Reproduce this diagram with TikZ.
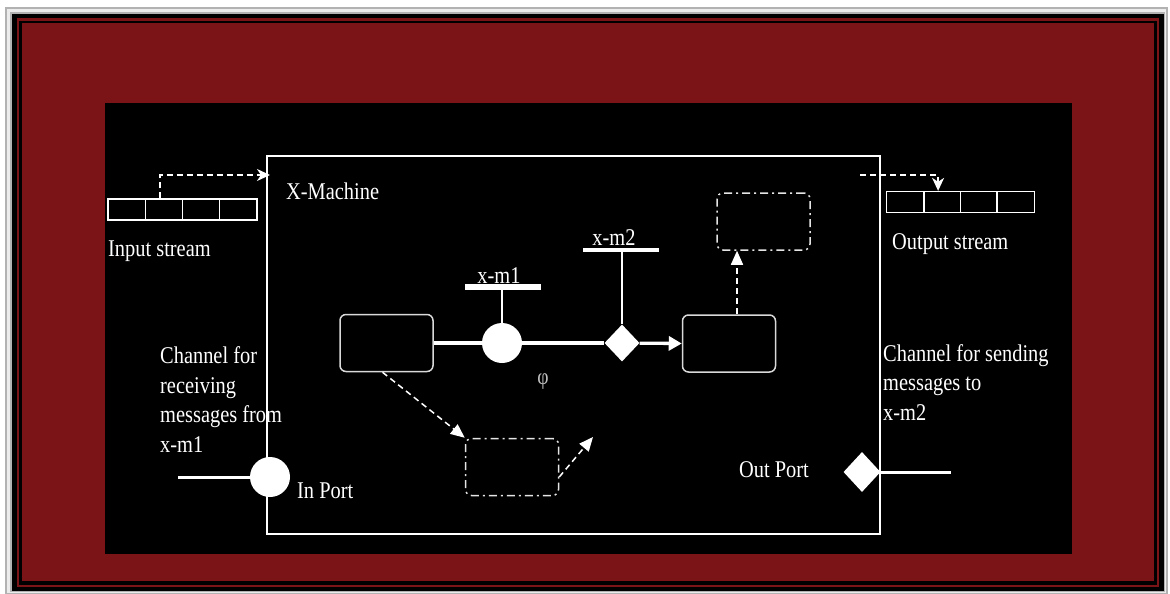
\documentclass[tikz,border=0pt]{standalone}
\usepackage{fontspec}
\usetikzlibrary{shapes.geometric,arrows.meta}
\newfontfamily\cfont[FakeStretch=0.85]{Liberation Serif}
\definecolor{frred}{RGB}{123,20,22}
\tikzset{
  lbl/.style={text=white, font=\cfont\fontsize{24}{29.5}\selectfont, inner sep=0pt},
  cell/.style={draw=white, line width=1.3pt, minimum width=37.25pt, minimum height=21pt, inner sep=0pt},
  sbox/.style={draw=white!85!black, line width=1.5pt, rounded corners=6pt, minimum width=93pt, minimum height=57pt, inner sep=0pt},
  dbox/.style={draw=white!90!black, line width=1.5pt, rounded corners=6pt, dash pattern=on 8pt off 4pt on 2pt off 4pt, minimum width=93pt, minimum height=57pt, inner sep=0pt},
  bar/.style={fill=white, minimum width=76pt, inner sep=0pt},
  dot/.style={circle, fill=white, minimum size=40pt, inner sep=0pt},
  dia/.style={diamond, fill=white, minimum width=35pt, minimum height=37pt, inner sep=0pt},
  darr/.style={draw=white, line width=1.5pt, dash pattern=on 6pt off 4pt},
  tri/.style={-{Triangle[length=14pt,width=12pt]}},
  stl/.style={-{Stealth[length=13pt,width=12pt,inset=4pt]}},
}
\begin{document}
\begin{tikzpicture}[x=1pt,y=-1pt]
\useasboundingbox (0,0) rectangle (1170,594);
% frame
\fill[white] (0,0) rectangle (1170,594);
\fill[gray!60] (5,7) rectangle (1168,594);
\fill[gray!15] (7,9) rectangle (1166,593);
\fill[gray!60] (10,12) rectangle (1165,592);
\fill[black] (12,14) rectangle (1164,591);
\fill[frred] (17,18) rectangle (1159,587);
\fill[black] (19,21) rectangle (1157,585);
\fill[frred] (22,23) rectangle (1154,581);
\fill[black] (105,103) rectangle (1072,554);
% machine
\node[draw=white, line width=1.3pt, minimum width=613pt, minimum height=378pt, inner sep=0pt] (machine) at (573.5,345) {};
\node[lbl, anchor=base west] (xm) at (286,199) {X-Machine};
% input stream
\node[cell] (in1) at (126.6,209.5) {};
\node[cell] (in2) at (163.9,209.5) {};
\node[cell] (in3) at (201.1,209.5) {};
\node[cell] (in4) at (238.4,209.5) {};
\node[lbl, anchor=base west] (inlbl) at (108,256) {Input stream};
\coordinate (intip) at (270,175);
\draw[darr, stl] ([xshift=-4pt]in2.north) |- (intip);
% output stream
\node[cell] (out1) at (905.4,202) {};
\node[cell] (out2) at (942.1,202) {};
\node[cell] (out3) at (978.9,202) {};
\node[cell] (out4) at (1015.6,202) {};
\node[lbl, anchor=base west] (outlbl) at (892,249) {Output stream};
\coordinate (outstart) at (860,175);
\draw[darr, stl] (outstart) -| ([xshift=-4pt]out2.north);
% central
\node[sbox] (box1) at (386.5,343) {};
\node[sbox] (box2) at (729,343.5) {};
\node[dot] (c1) at (502,343) {};
\node[dia] (d1) at (622,343) {};
\draw[white, line width=3.3pt] (box1.east) -- (c1);
\draw[white, line width=3.3pt] (c1) -- (d1);
\draw[white, line width=3.3pt, -{Triangle[length=13pt,width=14pt]}] (d1) -- (box2.west);
\node[bar, minimum height=6pt] (bar1) at (503,286.5) {};
\node[bar, minimum height=4pt] (bar2) at (621,250) {};
\node[lbl, anchor=base] (lx1) at (499,283) {x-m1};
\node[lbl, anchor=base] (lx2) at (614,245) {x-m2};
\draw[white, line width=2pt] (c1.north |- bar1.south) -- (c1.north);
\draw[white, line width=2pt] (d1.north |- bar2.south) -- (d1.north);
\node[text=white!75!black, font=\cfont\fontsize{23}{26}\selectfont, inner sep=0pt] (phi) at (543,382) {φ};
% dashed boxes
\node[dbox] (dbox1) at (763.5,221.5) {};
\node[dbox] (dbox2) at (512,467) {};
\draw[darr, tri] ([xshift=8pt]box2.north) -- ([xshift=8pt]box2.north |- dbox1.south);
\draw[darr, tri] ([xshift=-4pt]box1.south) -- (dbox2.north west);
\coordinate (d2tip) at (593,437);
\draw[darr, tri] ([yshift=-10pt]dbox2.east) -- (d2tip);
% ports
\node[dot] (inport) at (270,477) {};
\coordinate (inline) at (178,477);
\draw[white, line width=3pt] (inline) -- (inport);
\node[lbl, anchor=base west] (inportlbl) at (297,498) {In Port};
\node[dia, minimum width=37pt, minimum height=40pt] (outport) at (862,472) {};
\coordinate (outline) at (951,472);
\draw[white, line width=3pt] (outport) -- (outline);
\node[lbl, anchor=base west] (outportlbl) at (739,477) {Out Port};
% channel texts (base anchor = last line)
\node[lbl, anchor=base west, align=left] (chin) at (160,452) {Channel for\\receiving\\messages from\\x-m1};
\node[lbl, anchor=base west, align=left] (chout) at (883,420) {Channel for sending\\messages to\\x-m2};
\end{tikzpicture}
\end{document}
